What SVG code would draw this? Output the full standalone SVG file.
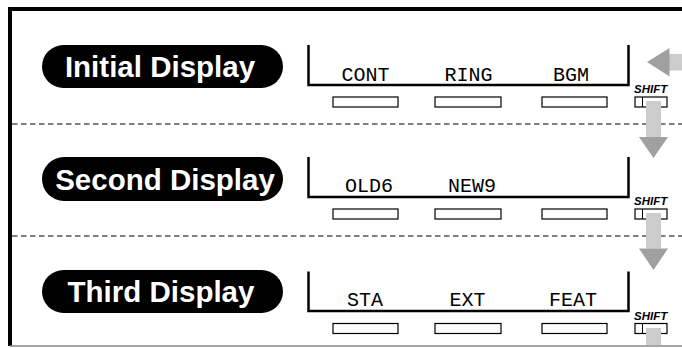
<svg xmlns="http://www.w3.org/2000/svg" width="682" height="348" viewBox="0 0 682 348">
<style>
.pill{fill:#000}
.pt{fill:#fff;font-family:"Liberation Sans",Arial,sans-serif;font-weight:bold;font-size:29.5px;text-anchor:middle}
.lcd{fill:none;stroke:#000;stroke-width:2.5}
.lt{fill:#000;font-family:"Liberation Mono","Courier New",monospace;font-size:20px;text-anchor:middle}
.btn{fill:#fff;stroke:#000;stroke-width:1.2}
.sh{fill:#000;font-family:"Liberation Sans",Arial,sans-serif;font-weight:bold;font-style:italic;font-size:11.5px}
.dash{stroke:#000;stroke-width:1.1;stroke-dasharray:5.5,3.5}
.shaft{fill:#cccccc}
.head{fill:#a0a0a0}
</style>
<rect width="682" height="348" fill="#fff"/>
<g id="frame">
<path d="M10,346 V9 H682" fill="none" stroke="#000" stroke-width="4"/>
<line x1="10" y1="346" x2="682" y2="346" stroke="#888" stroke-width="1.5"/>
<line class="dash" x1="12" y1="124" x2="682" y2="124"/>
<line class="dash" x1="12" y1="236" x2="682" y2="236"/>
</g>
<g id="initial">
<rect class="pill" x="42" y="45" width="241" height="43" rx="21.5"/>
<text class="pt" x="160" y="77">Initial Display</text>
<path class="lcd" d="M308.5,45 V85 H628.5 V45"/>
<text class="lt" x="365.5" y="81">CONT</text>
<text class="lt" x="468.5" y="81">RING</text>
<text class="lt" x="571" y="81">BGM</text>
<rect class="btn" x="333" y="97" width="65" height="10"/>
<rect class="btn" x="435" y="97" width="66" height="10"/>
<rect class="btn" x="542" y="97" width="65" height="10"/>
<text class="sh" x="634" y="92.5">SHIFT</text>
<rect class="btn" x="635" y="97" width="32" height="10"/>
<line x1="642.5" y1="97" x2="642.5" y2="107" stroke="#000" stroke-width="1"/>
</g>
<g id="second">
<rect class="pill" x="42" y="157" width="241" height="44" rx="22"/>
<text class="pt" x="165" y="189.5">Second Display</text>
<path class="lcd" d="M308.5,157 V197 H628.5 V157"/>
<text class="lt" x="369" y="192">OLD6</text>
<text class="lt" x="472" y="192">NEW9</text>
<rect class="btn" x="333" y="209" width="65" height="10"/>
<rect class="btn" x="435" y="209" width="66" height="10"/>
<rect class="btn" x="542" y="209" width="65" height="10"/>
<text class="sh" x="634" y="205">SHIFT</text>
<rect class="btn" x="635" y="209" width="32" height="10"/>
<line x1="642.5" y1="209" x2="642.5" y2="219" stroke="#000" stroke-width="1"/>
</g>
<g id="third">
<rect class="pill" x="42" y="270" width="241" height="43" rx="21.5"/>
<text class="pt" x="161" y="302">Third Display</text>
<path class="lcd" d="M308.5,271.5 V311 H628.5 V271.5"/>
<text class="lt" x="365" y="306">STA</text>
<text class="lt" x="467.5" y="306">EXT</text>
<text class="lt" x="573" y="306">FEAT</text>
<rect class="btn" x="333" y="323.5" width="65" height="10"/>
<rect class="btn" x="435" y="323.5" width="66" height="10"/>
<rect class="btn" x="542" y="323.5" width="65" height="10"/>
<text class="sh" x="634" y="320">SHIFT</text>
<rect class="btn" x="635" y="323.5" width="32" height="10"/>
<line x1="642.5" y1="323.5" x2="642.5" y2="333.5" stroke="#000" stroke-width="1"/>
</g>
<g id="connectors">
<rect class="shaft" x="646" y="101" width="15" height="36"/>
<polygon class="head" points="639,137 668,137 653.5,158"/>
<rect class="shaft" x="646" y="213" width="15" height="35.5"/>
<polygon class="head" points="639,248.5 668,248.5 653.5,270"/>
<rect class="shaft" x="646" y="328" width="15" height="17"/>
<rect class="shaft" x="669" y="54" width="13" height="16.5"/>
<polygon class="head" points="669.5,48 669.5,76.5 647,62"/>
</g>
</svg>
